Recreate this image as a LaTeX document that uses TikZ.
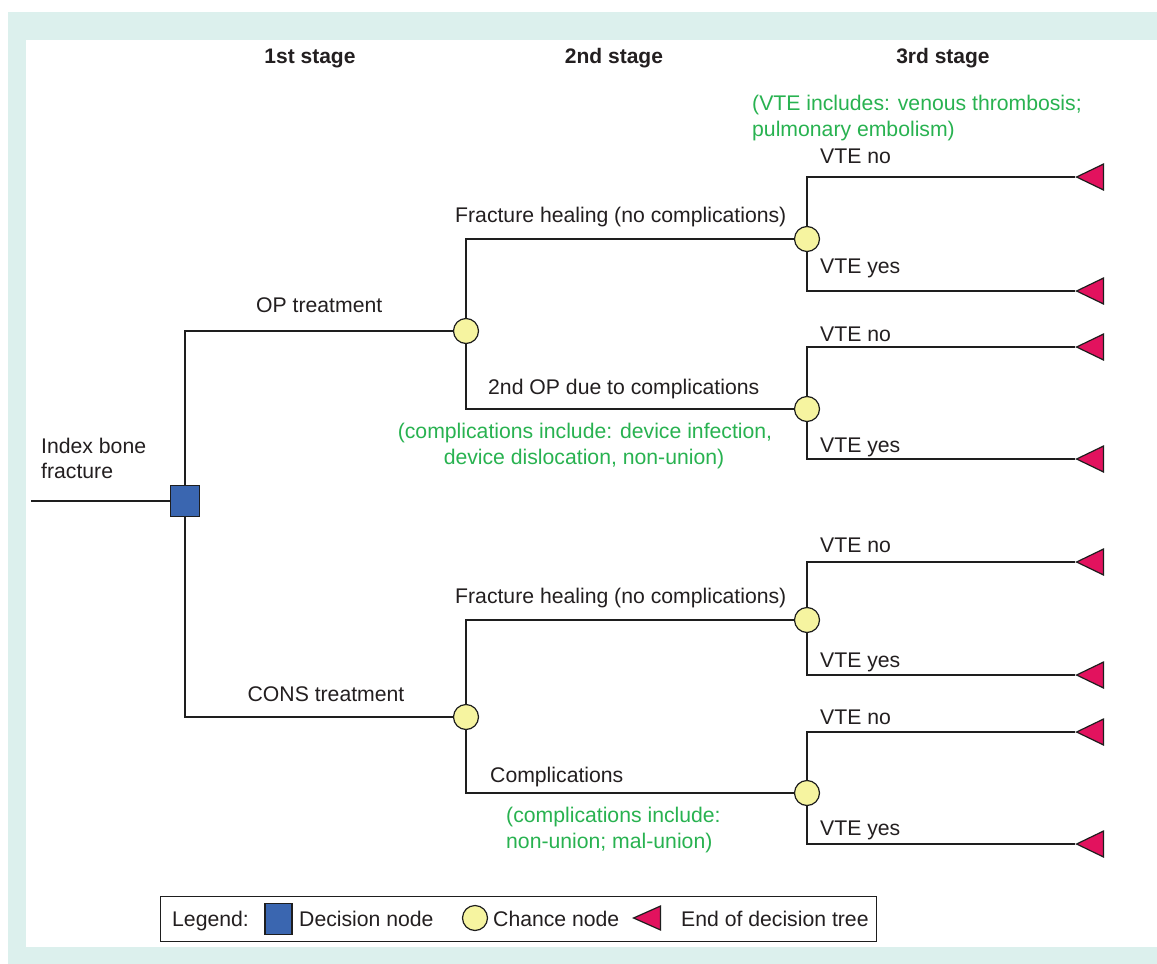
\documentclass[tikz,border=0pt]{standalone}
\usepackage{fontspec}
\setmainfont{Liberation Sans}
\usetikzlibrary{shapes.geometric}
\definecolor{framecol}{RGB}{220,240,237}
\definecolor{textgray}{RGB}{35,31,32}
\definecolor{linegray}{RGB}{30,30,30}
\definecolor{notegreen}{RGB}{40,178,80}
\definecolor{decblue}{RGB}{58,102,176}
\definecolor{chyellow}{RGB}{246,244,160}
\definecolor{endred}{RGB}{226,18,94}
\begin{document}
\begin{tikzpicture}[x=1pt,y=-1pt,
  txt/.style={font=\fontsize{21.2}{26}\selectfont, text=textgray, inner sep=0pt},
  lbl/.style={txt, anchor=base west},
  clbl/.style={txt, anchor=base},
  notel/.style={txt, text=notegreen, anchor=base west},
  notec/.style={txt, text=notegreen, anchor=base},
  hdr/.style={txt, font=\fontsize{21}{26}\selectfont\bfseries, anchor=base},
  decnode/.style={draw=linegray, line width=1.2pt, fill=decblue, minimum width=29pt, minimum height=31pt, inner sep=0pt},
  chnode/.style={circle, draw=linegray, line width=1.2pt, fill=chyellow, minimum size=25pt, inner sep=0pt},
  endnode/.style={isosceles triangle, isosceles triangle stretches, shape border rotate=180, draw=linegray, line width=1.2pt, fill=endred, minimum width=26pt, minimum height=27pt, inner sep=0pt, anchor=apex},
  branch/.style={draw=linegray, line width=1.3pt}]
\useasboundingbox (0,0) rectangle (1157,964);
\fill[framecol] (8,12) rectangle (1157,964);
\fill[white] (26,40) rectangle (1157,947);

% headers
\node[hdr] (h1) at (310,63) {1st stage};
\node[hdr] (h2) at (614,63) {2nd stage};
\node[hdr] (h3) at (943,63) {3rd stage};

% decision node
\node[decnode] (d) at (185,501) {};
\coordinate (in) at (31,501);
\node[lbl] (ib1) at (41,453) {Index bone};
\node[lbl] (ib2) at (41,478) {fracture};

% chance nodes
\node[chnode] (c1) at (466,331) {};
\node[chnode] (c2) at (466,717) {};
\node[chnode] (c11) at (807,239) {};
\node[chnode] (c12) at (807,409) {};
\node[chnode] (c21) at (807,620) {};
\node[chnode] (c22) at (807,793) {};

% end nodes
\node[endnode] (t111) at (1075,177) {};
\node[endnode] (t112) at (1075,291) {};
\node[endnode] (t121) at (1075,347) {};
\node[endnode] (t122) at (1075,459) {};
\node[endnode] (t211) at (1075,562) {};
\node[endnode] (t212) at (1075,675) {};
\node[endnode] (t221) at (1075,732) {};
\node[endnode] (t222) at (1075,844) {};

% connectors
\draw[branch] (in) -- (d.west);
\draw[branch] (d.north) |- (c1.west);
\draw[branch] (d.south) |- (c2.west);
\draw[branch] (c1.north) |- (c11.west);
\draw[branch] (c1.south) |- (c12.west);
\draw[branch] (c2.north) |- (c21.west);
\draw[branch] (c2.south) |- (c22.west);
\draw[branch] (c11.north) |- (t111.apex);
\draw[branch] (c11.south) |- (t112.apex);
\draw[branch] (c12.north) |- (t121.apex);
\draw[branch] (c12.south) |- (t122.apex);
\draw[branch] (c21.north) |- (t211.apex);
\draw[branch] (c21.south) |- (t212.apex);
\draw[branch] (c22.north) |- (t221.apex);
\draw[branch] (c22.south) |- (t222.apex);

% first stage labels
\node[lbl] (op) at (256,312) {OP treatment};
\node[clbl] (cons) at (326,701) {CONS treatment};

% second stage labels
\node[lbl] (fh1) at (455,222) {Fracture healing (no complications)};
\node[lbl] (op2) at (488,394) {2nd OP due to complications};
\node[notec] (g1a) at (585,438) {(complications include: device infection,};
\node[notec] (g1b) at (584,464) {device dislocation, non-union)};
\node[lbl] (fh2) at (455,603) {Fracture healing (no complications)};
\node[lbl] (comp) at (490,782) {Complications};
\node[notel] (g2a) at (506,822) {(complications include:};
\node[notel] (g2b) at (506,848) {non-union; mal-union)};

% third stage labels
\node[notel] (g3a) at (752,110) {(VTE includes: venous thrombosis;};
\node[notel] (g3b) at (752,136) {pulmonary embolism)};
\node[lbl] (v111) at (820,163) {VTE no};
\node[lbl] (v112) at (820,273) {VTE yes};
\node[lbl] (v121) at (820,341) {VTE no};
\node[lbl] (v122) at (820,452) {VTE yes};
\node[lbl] (v211) at (820,552) {VTE no};
\node[lbl] (v212) at (820,667) {VTE yes};
\node[lbl] (v221) at (820,724) {VTE no};
\node[lbl] (v222) at (820,835) {VTE yes};

% legend
\node[draw=linegray, line width=1pt, fill=white, minimum width=716pt, minimum height=45pt, inner sep=0pt] (leg) at (518,918.5) {};
\node[lbl] (lg0) at (172,926) {Legend:};
\node[decnode, minimum width=27pt, minimum height=31pt] (lgd) at (278.5,919) {};
\node[lbl] (lg1) at (299,926) {Decision node};
\node[chnode] (lgc) at (475,918) {};
\node[lbl] (lg2) at (493,926) {Chance node};
\node[endnode, minimum width=24pt, minimum height=27pt] (lgt) at (632,918) {};
\node[lbl] (lg3) at (681,926) {End of decision tree};
\end{tikzpicture}
\end{document}
